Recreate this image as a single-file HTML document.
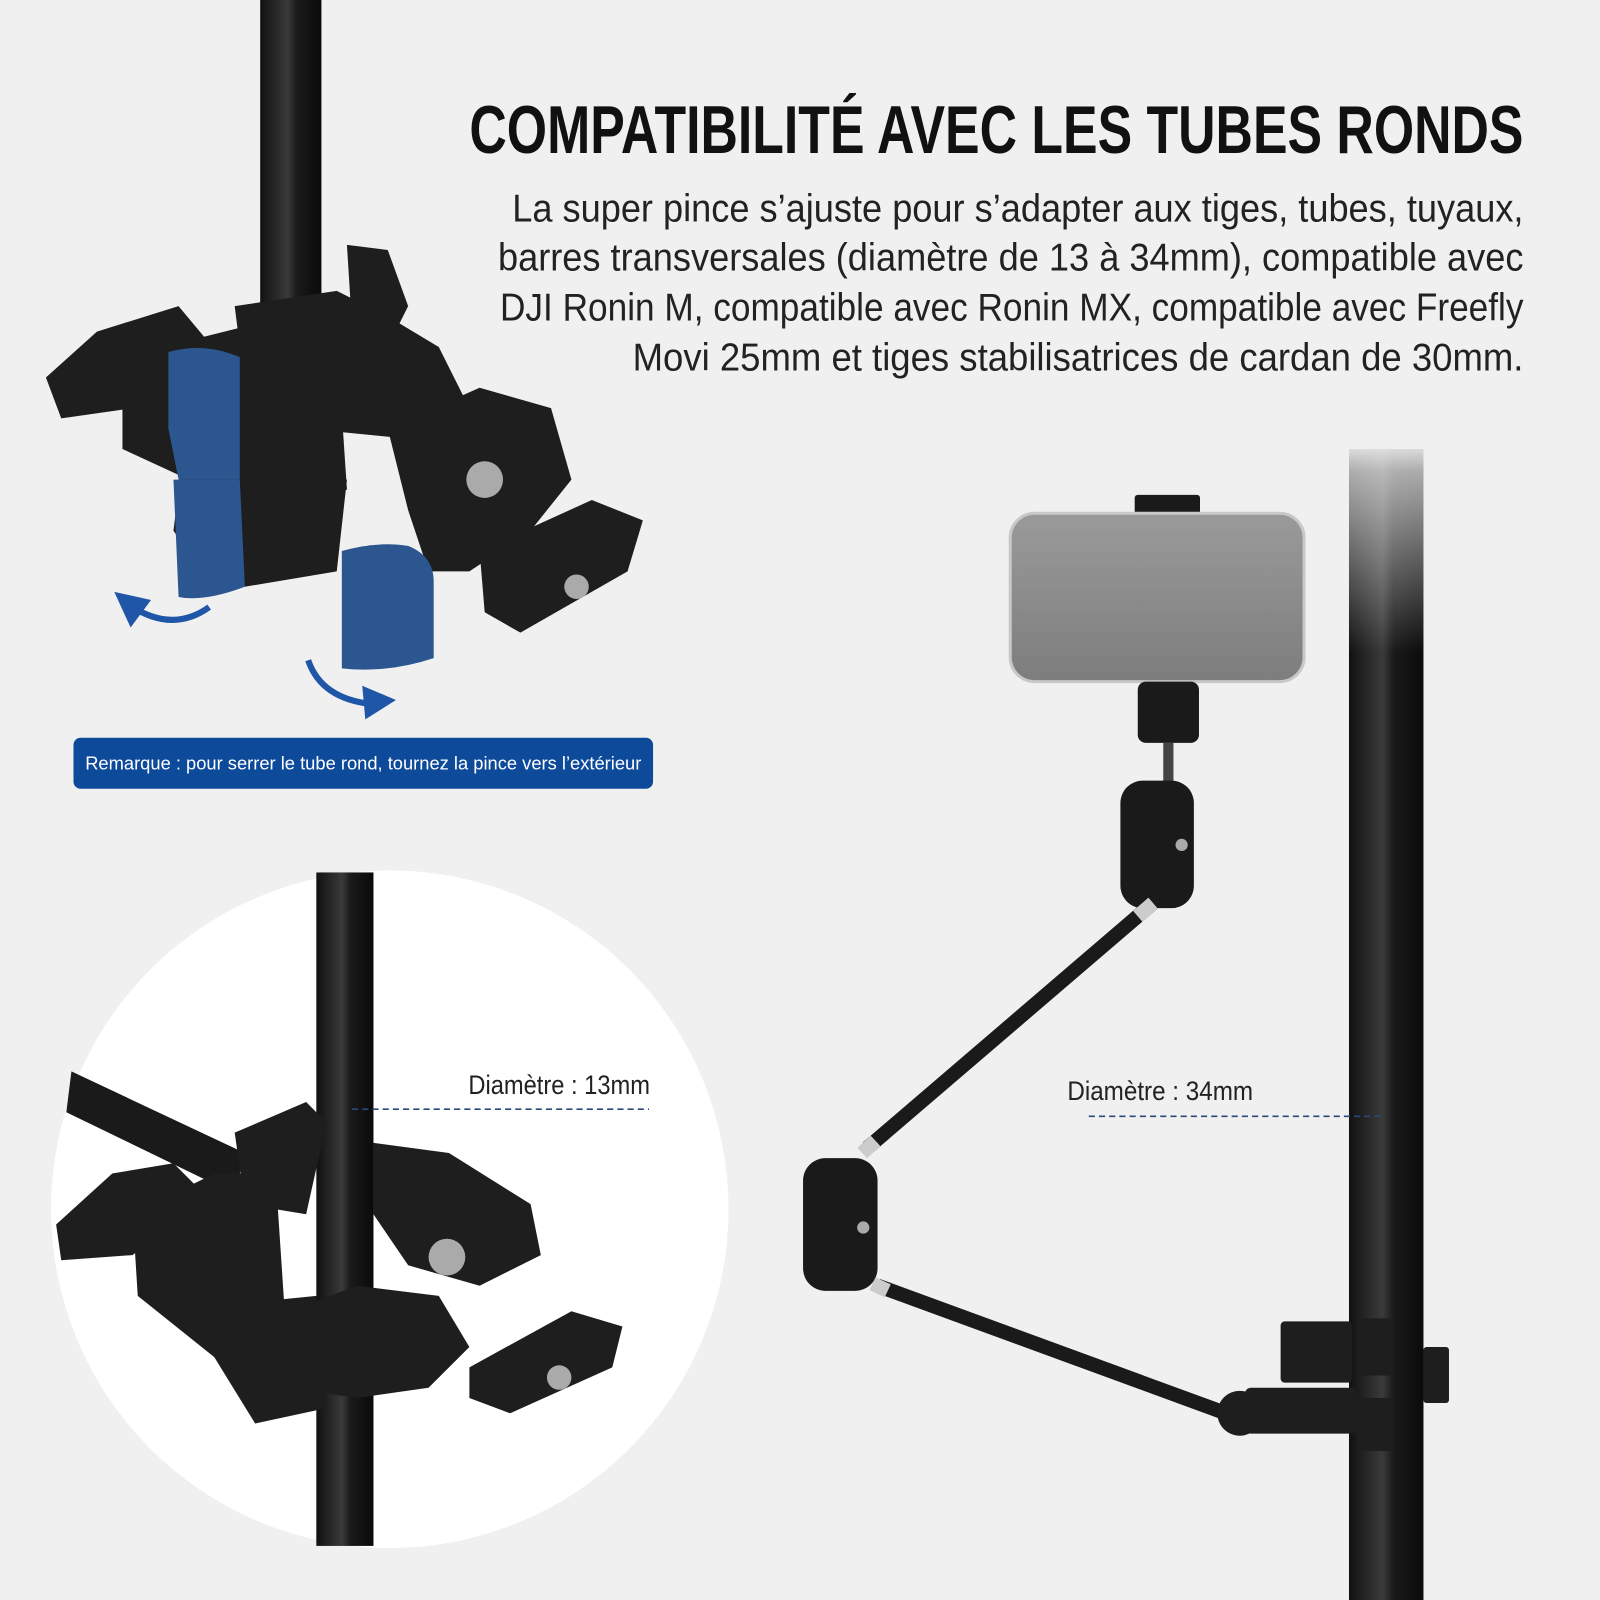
<!DOCTYPE html>
<html><head><meta charset="utf-8"><style>
html,body{margin:0;padding:0;background:#f0f0f0;}
svg{display:block;}
</style></head><body>
<svg width="1600" height="1600" viewBox="0 0 1568 1568" xmlns="http://www.w3.org/2000/svg">
<defs>
<linearGradient id="pg" x1="0" y1="0" x2="1" y2="0">
<stop offset="0" stop-color="#111"/><stop offset="0.45" stop-color="#3a3a3a"/><stop offset="0.6" stop-color="#1a1a1a"/><stop offset="1" stop-color="#0a0a0a"/>
</linearGradient>
<linearGradient id="fade" x1="0" y1="0" x2="0" y2="1">
<stop offset="0" stop-color="#f0f0f0" stop-opacity="1"/><stop offset="0.15" stop-color="#f0f0f0" stop-opacity="0.7"/><stop offset="1" stop-color="#f0f0f0" stop-opacity="0"/>
</linearGradient>
<linearGradient id="ph" x1="0" y1="0" x2="0" y2="1">
<stop offset="0" stop-color="#9a9a9a"/><stop offset="1" stop-color="#7d7d7d"/>
</linearGradient>
</defs>
<rect width="1568" height="1568" fill="#f0f0f0"/>

<text x="460" y="150" font-family="Liberation Sans, sans-serif" font-weight="bold" font-size="66" fill="#111" textLength="1033" lengthAdjust="spacingAndGlyphs">COMPATIBILITÉ AVEC LES TUBES RONDS</text>
<g font-family="Liberation Sans, sans-serif" font-size="38" fill="#222" text-anchor="end">
<text x="1493" y="217" textLength="991" lengthAdjust="spacingAndGlyphs">La super pince s’ajuste pour s’adapter aux tiges, tubes, tuyaux,</text>
<text x="1493" y="265" textLength="1005" lengthAdjust="spacingAndGlyphs">barres transversales (diamètre de 13 à 34mm), compatible avec</text>
<text x="1493" y="314" textLength="1003" lengthAdjust="spacingAndGlyphs">DJI Ronin M, compatible avec Ronin MX, compatible avec Freefly</text>
<text x="1493" y="363" textLength="873" lengthAdjust="spacingAndGlyphs">Movi 25mm et tiges stabilisatrices de cardan de 30mm.</text>
</g>

<rect x="255" y="0" width="60" height="330" fill="url(#pg)"/>
<g fill="#1e1e1e">
<polygon points="45,370 95,325 175,300 200,330 130,400 60,410"/>
<polygon points="120,350 240,320 330,330 340,480 250,500 120,440"/>
<polygon points="230,300 330,285 380,310 430,340 460,400 400,430 300,420 240,380"/>
<polygon points="340,240 380,245 400,300 380,340 345,320"/>
<polygon points="380,420 470,380 540,400 560,470 520,520 460,560 420,560 400,500"/>
<polygon points="180,440 340,470 330,560 210,580 170,520"/>
<polygon points="470,540 580,490 630,510 615,560 510,620 475,600"/>
</g>
<circle cx="475" cy="470" r="18" fill="#aaa"/>
<circle cx="565" cy="575" r="12" fill="#aaa"/>
<g fill="#2b5690">
<path d="M165,345 Q200,335 235,350 L235,470 L175,470 L165,420 Z"/>
<path d="M170,470 L235,470 L240,575 Q200,590 175,585 Z"/>
<path d="M335,540 Q370,530 400,535 Q425,545 425,570 L425,645 Q380,660 335,655 Z"/>
</g>
<path d="M205,595 Q170,620 130,595" fill="none" stroke="#1f56a8" stroke-width="6"/>
<polygon points="112,580 148,588 128,615" fill="#1f56a8"/>
<path d="M302,647 Q315,685 365,690" fill="none" stroke="#1f56a8" stroke-width="6"/>
<polygon points="388,686 355,672 358,705" fill="#1f56a8"/>

<rect x="72" y="723" width="568" height="50" rx="7" fill="#0d4a9a"/>
<text x="356" y="754" text-anchor="middle" font-family="Liberation Sans, sans-serif" font-size="18" fill="#fff" textLength="545" lengthAdjust="spacingAndGlyphs">Remarque : pour serrer le tube rond, tournez la pince vers l’extérieur</text>

<circle cx="382" cy="1185" r="332" fill="#fff"/>
<polygon points="70,1050 240,1130 230,1170 65,1090" fill="#1a1a1a"/>
<rect x="310" y="855" width="56" height="660" fill="url(#pg)"/>
<g fill="#1e1e1e">
<polygon points="55,1200 110,1150 170,1140 200,1170 130,1230 60,1235"/>
<polygon points="130,1190 210,1150 270,1150 280,1300 210,1330 135,1270"/>
<polygon points="230,1110 300,1080 320,1100 300,1190 240,1180"/>
<polygon points="366,1120 440,1130 520,1180 530,1230 470,1260 400,1240 366,1190"/>
<polygon points="210,1280 310,1270 320,1380 250,1395 210,1330"/>
<polygon points="270,1290 350,1260 430,1270 460,1320 420,1360 350,1370 280,1360"/>
<polygon points="460,1340 560,1285 610,1300 600,1340 500,1385 460,1370"/>
</g>
<circle cx="438" cy="1232" r="18" fill="#aaa"/>
<circle cx="548" cy="1350" r="12" fill="#aaa"/>
<line x1="345" y1="1087" x2="636" y2="1087" stroke="#2a4a7a" stroke-width="1.5" stroke-dasharray="6,4"/>
<text x="637" y="1072" text-anchor="end" font-family="Liberation Sans, sans-serif" font-size="26" fill="#222" textLength="178" lengthAdjust="spacingAndGlyphs">Diamètre : 13mm</text>

<rect x="1322" y="440" width="73" height="1128" fill="url(#pg)"/>
<rect x="1315" y="430" width="90" height="210" fill="url(#fade)"/>
<line x1="1067" y1="1094" x2="1357" y2="1094" stroke="#2a4a7a" stroke-width="1.5" stroke-dasharray="6,4"/>
<text x="1046" y="1078" font-family="Liberation Sans, sans-serif" font-size="26" fill="#222" textLength="182" lengthAdjust="spacingAndGlyphs">Diamètre : 34mm</text>

<rect x="1112" y="485" width="64" height="22" rx="3" fill="#1a1a1a"/>
<rect x="990" y="503" width="288" height="165" rx="24" fill="url(#ph)" stroke="#c8c8c8" stroke-width="3"/>
<rect x="1115" y="668" width="60" height="60" rx="8" fill="#1a1a1a"/>
<rect x="1140" y="728" width="10" height="40" fill="#444"/>
<rect x="1098" y="765" width="72" height="125" rx="22" fill="#1a1a1a"/>
<circle cx="1158" cy="828" r="6" fill="#aaa"/>
<line x1="1130" y1="885" x2="850" y2="1125" stroke="#1a1a1a" stroke-width="14"/>
<line x1="1130" y1="885" x2="1115" y2="898" stroke="#ccc" stroke-width="14"/>
<line x1="858" y1="1118" x2="845" y2="1130" stroke="#ccc" stroke-width="14"/>
<rect x="787" y="1135" width="73" height="130" rx="22" fill="#1a1a1a"/>
<circle cx="846" cy="1203" r="6" fill="#aaa"/>
<line x1="860" y1="1260" x2="1215" y2="1390" stroke="#1a1a1a" stroke-width="14"/>
<line x1="855" y1="1258" x2="870" y2="1265" stroke="#ccc" stroke-width="14"/>
<g fill="#1e1e1e">
<circle cx="1215" cy="1385" r="22"/>
<rect x="1220" y="1360" width="110" height="45" rx="6"/>
<rect x="1255" y="1295" width="70" height="60" rx="4"/>
<rect x="1330" y="1292" width="35" height="56" rx="3"/>
<rect x="1330" y="1370" width="35" height="52" rx="3"/>
<rect x="1395" y="1320" width="25" height="55" rx="3"/>
</g>
</svg>
</body></html>
